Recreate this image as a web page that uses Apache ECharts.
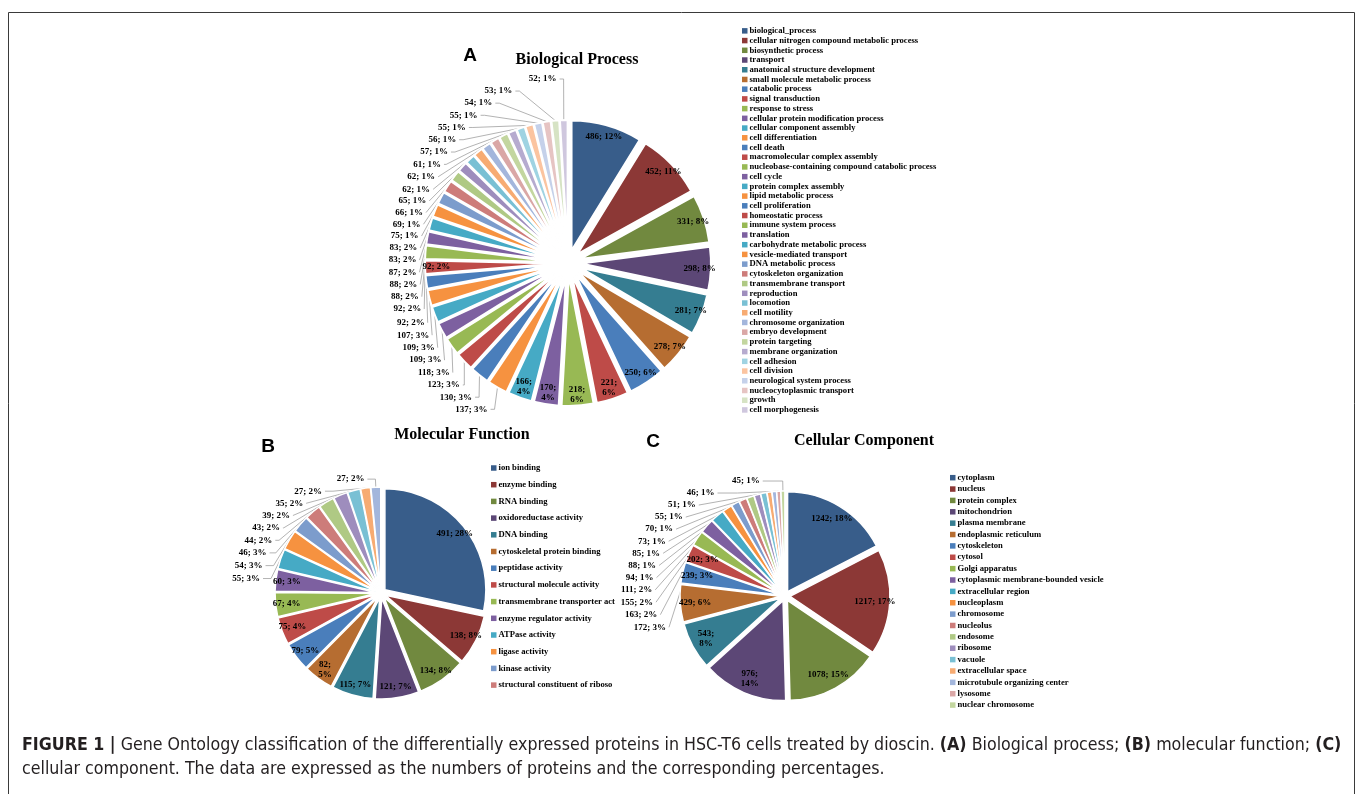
<!DOCTYPE html>
<html>
<head>
<meta charset="utf-8">
<script src="https://cdn.jsdelivr.net/npm/echarts@6.0.0/dist/echarts.min.js"></script>
<style>
  html, body { margin: 0; padding: 0; background: #fff; }
  #fig { width: 1357px; height: 794px; }
</style>
</head>
<body>
<div id="fig"></div>
<script>
// ---- Biological process (panel A) ----
const bpNames = [
  'biological_process', 'cellular nitrogen compound metabolic process', 'biosynthetic process',
  'transport', 'anatomical structure development', 'small molecule metabolic process',
  'catabolic process', 'signal transduction', 'response to stress',
  'cellular protein modification process', 'cellular component assembly', 'cell differentiation',
  'cell death', 'macromolecular complex assembly', 'nucleobase-containing compound catabolic process',
  'cell cycle', 'protein complex assembly', 'lipid metabolic process', 'cell proliferation',
  'homeostatic process', 'immune system process', 'translation', 'carbohydrate metabolic process',
  'vesicle-mediated transport', 'DNA metabolic process', 'cytoskeleton organization',
  'transmembrane transport', 'reproduction', 'locomotion', 'cell motility',
  'chromosome organization', 'embryo development', 'protein targeting', 'membrane organization',
  'cell adhesion', 'cell division', 'neurological system process', 'nucleocytoplasmic transport',
  'growth', 'cell morphogenesis'
];
const bpCounts = [486, 452, 331, 298, 281, 278, 250, 221, 218, 170, 166, 137, 130, 123, 118, 109, 109, 107,
  92, 92, 92, 88, 88, 87, 83, 83, 75, 69, 66, 65, 62, 62, 61, 57, 56, 55, 55, 54, 53, 52];
const bpPct = [12, 11, 8, 8, 7, 7, 6, 6, 6, 4, 4, 3, 3, 3, 3, 3, 3, 3,
  2, 2, 2, 2, 2, 2, 2, 2, 1, 1, 1, 1, 1, 1, 1, 1, 1, 1, 1, 1, 1, 1];

// ---- Molecular function (panel B) ----
const mfNames = [
  'ion binding', 'enzyme binding', 'RNA binding', 'oxidoreductase activity', 'DNA binding',
  'cytoskeletal protein binding', 'peptidase activity', 'structural molecule activity',
  'transmembrane transporter activity', 'enzyme regulator activity', 'ATPase activity',
  'ligase activity', 'kinase activity', 'structural constituent of ribosome',
  'molecular function 15', 'molecular function 16', 'molecular function 17',
  'molecular function 18', 'molecular function 19'
];
const mfCounts = [491, 138, 134, 121, 115, 82, 79, 75, 67, 60, 55, 54, 46, 44, 43, 39, 35, 27, 27];
const mfPct = [28, 8, 8, 7, 7, 5, 5, 4, 4, 3, 3, 3, 3, 2, 2, 2, 2, 2, 2];
const mfLegendCount = 14;

// ---- Cellular component (panel C) ----
const ccNames = [
  'cytoplasm', 'nucleus', 'protein complex', 'mitochondrion', 'plasma membrane',
  'endoplasmic reticulum', 'cytoskeleton', 'cytosol', 'Golgi apparatus',
  'cytoplasmic membrane-bounded vesicle', 'extracellular region', 'nucleoplasm', 'chromosome',
  'nucleolus', 'endosome', 'ribosome', 'vacuole', 'extracellular space',
  'microtubule organizing center', 'lysosome', 'nuclear chromosome'
];
const ccCounts = [1242, 1217, 1078, 976, 543, 429, 239, 202, 172, 163, 155, 111, 94, 88, 85, 73, 70, 55, 51, 46, 45];
const ccPct = [18, 17, 15, 14, 8, 6, 3, 3, 3, 2, 2, 2, 1, 1, 1, 1, 1, 1, 1, 1, 1];

// Office-style slice colours, cycling through shade groups
const dark    = ['#385D8A', '#8C3836', '#71893F', '#5C4776', '#357D91', '#B66D31'];
const normal  = ['#4A7EBB', '#BE4B48', '#98B954', '#7D60A0', '#46AAC5', '#F69240'];
const light   = ['#7C9CCC', '#CD7C7A', '#AFC984', '#9E8DBD', '#79C0D4', '#F7AB72'];
const lighter = ['#A3B6DC', '#DAA7A6', '#C3D69F', '#B6ABCF', '#9FD3E2', '#FBC4A0'];
const palest  = ['#C5D1EA', '#E6C4C3', '#D6E3C4', '#CFC7DE', '#C7E5EE', '#FCDAC4'];
const paletteA = [...dark, ...normal, ...normal, ...normal, ...light, ...lighter, ...palest];
const paletteBC = [...dark, ...normal, ...light, ...lighter];

// slices whose labels sit inside the wedge; some of those wrap onto two lines
const insideA = new Set([0, 1, 2, 3, 4, 5, 6, 7, 8, 9, 10, 19]);
const wrapA = new Set([7, 8, 9, 10]);
const insideB = new Set([0, 1, 2, 3, 4, 5, 6, 7, 8, 9]);
const wrapB = new Set([5]);
const insideC = new Set([0, 1, 2, 3, 4, 5, 6, 7]);
const wrapC = new Set([3, 4]);

const serif = "'Liberation Serif', 'Times New Roman', serif";
const labelFont = { fontFamily: serif, fontWeight: 'bold', fontSize: 9, color: '#000' };

function labelText(counts, pct, wrap) {
  return function (p) {
    const i = p.dataIndex;
    return counts[i] + ';' + (wrap.has(i) ? '\n' : ' ') + pct[i] + '%';
  };
}

// one pie = wedge series (outside labels) + transparent ring carrying the inside labels.
// box bounds the area the outside labels may be spread over; center is relative to it.
function buildPie(cfg) {
  const box = { left: 0, width: 1357, top: cfg.boxTop, height: cfg.boxHeight };
  const center = [cfg.cx, cfg.cy - cfg.boxTop];
  const wedges = Object.assign({
    type: 'pie', center: center, radius: [0, cfg.r],
    startAngle: 90, clockwise: true,
    selectedMode: 'multiple', selectedOffset: cfg.offset,
    avoidLabelOverlap: true, animation: false,
    emphasis: { disabled: true },
    itemStyle: { borderColor: '#fff', borderWidth: cfg.border },
    select: { itemStyle: { borderColor: '#fff', borderWidth: cfg.border } },
    label: Object.assign({ position: 'outside', formatter: labelText(cfg.counts, cfg.pct, cfg.wrap),
      lineHeight: 10, distanceToLabelLine: 3 }, labelFont),
    labelLine: { length: cfg.len1, length2: cfg.len2, smooth: false, lineStyle: { color: '#a0a0a0', width: 0.8 } },
    data: cfg.names.map((n, i) => ({
      name: n, value: cfg.counts[i], selected: true,
      itemStyle: { color: cfg.palette[i] },
      label: { show: !cfg.inside.has(i) },
      labelLine: { show: !cfg.inside.has(i) }
    }))
  }, box);
  const ring = Object.assign({
    type: 'pie', center: center, radius: [cfg.r * cfg.inner, cfg.r],
    startAngle: 90, clockwise: true, silent: true,
    selectedMode: 'multiple', selectedOffset: cfg.offset,
    avoidLabelOverlap: false, animation: false, z: 3,
    emphasis: { disabled: true },
    itemStyle: { color: 'rgba(0,0,0,0)', borderWidth: 0 },
    select: { itemStyle: { color: 'rgba(0,0,0,0)', borderWidth: 0 } },
    label: Object.assign({ position: 'inside', formatter: labelText(cfg.counts, cfg.pct, cfg.wrap), lineHeight: 10 }, labelFont),
    labelLine: { show: false },
    data: cfg.names.map((n, i) => ({
      name: n, value: cfg.counts[i], selected: true,
      label: { show: cfg.inside.has(i) }
    }))
  }, box);
  return [wedges, ring];
}

const legendText = { fontFamily: serif, fontWeight: 'bold', fontSize: 8.6, color: '#000', padding: [0, 0, 0, -3] };
const legendBase = { orient: 'vertical', padding: 0, itemWidth: 5.5, itemHeight: 5.5, icon: 'rect',
  selectedMode: false, itemStyle: { borderWidth: 0 } };

const capFont = "'Liberation Sans Narrow', 'DejaVu Sans Condensed', 'Liberation Sans', sans-serif";

const chart = echarts.init(document.getElementById('fig'), null, { renderer: 'canvas' });
chart.setOption({
  backgroundColor: '#fff',
  animation: false,
  legend: [
    Object.assign({}, legendBase, {
      left: 742, top: 26, itemGap: 0, data: bpNames,
      textStyle: Object.assign({ lineHeight: 9.72 }, legendText)
    }),
    Object.assign({}, legendBase, {
      left: 491, top: 463, itemGap: 6.7, data: mfNames.slice(0, mfLegendCount),
      textStyle: Object.assign({ lineHeight: 10, width: 119, overflow: 'truncate', ellipsis: '' }, legendText)
    }),
    Object.assign({}, legendBase, {
      left: 950, top: 472, itemGap: 0, data: ccNames,
      textStyle: Object.assign({ lineHeight: 11.37 }, legendText)
    })
  ],
  series: [
    ...buildPie({ names: bpNames, counts: bpCounts, pct: bpPct, palette: paletteA,
      inside: insideA, wrap: wrapA, cx: 568, cy: 263, r: 130, offset: 13, border: 2,
      inner: 0.78, len1: 6, len2: 4, boxTop: 86, boxHeight: 318 }),
    ...buildPie({ names: mfNames, counts: mfCounts, pct: mfPct, palette: paletteBC,
      inside: insideB, wrap: wrapB, cx: 381, cy: 593, r: 101, offset: 5, border: 1.5,
      inner: 0.72, len1: 8, len2: 8, boxTop: 470, boxHeight: 235 }),
    ...buildPie({ names: ccNames, counts: ccCounts, pct: ccPct, palette: paletteBC,
      inside: insideC, wrap: wrapC, cx: 785, cy: 596, r: 100, offset: 5, border: 1.5,
      inner: 0.64, len1: 10, len2: 20, boxTop: 452, boxHeight: 250 })
  ],
  graphic: [
    { type: 'rect', silent: true, shape: { x: 8.5, y: 12.5, width: 1346, height: 800 },
      style: { fill: 'none', stroke: '#3a3a3a', lineWidth: 1 } },
    { type: 'text', x: 470, y: 56, style: { text: 'A', align: 'center', verticalAlign: 'middle',
      fontFamily: "'Liberation Sans', Arial, sans-serif", fontWeight: 'bold', fontSize: 19, fill: '#000' } },
    { type: 'text', x: 577, y: 60, style: { text: 'Biological Process', align: 'center', verticalAlign: 'middle',
      fontFamily: serif, fontWeight: 'bold', fontSize: 16, fill: '#000' } },
    { type: 'text', x: 268, y: 447, style: { text: 'B', align: 'center', verticalAlign: 'middle',
      fontFamily: "'Liberation Sans', Arial, sans-serif", fontWeight: 'bold', fontSize: 19, fill: '#000' } },
    { type: 'text', x: 462, y: 435, style: { text: 'Molecular Function', align: 'center', verticalAlign: 'middle',
      fontFamily: serif, fontWeight: 'bold', fontSize: 16, fill: '#000' } },
    { type: 'text', x: 653, y: 442, style: { text: 'C', align: 'center', verticalAlign: 'middle',
      fontFamily: "'Liberation Sans', Arial, sans-serif", fontWeight: 'bold', fontSize: 19, fill: '#000' } },
    { type: 'text', x: 864, y: 441, style: { text: 'Cellular Component', align: 'center', verticalAlign: 'middle',
      fontFamily: serif, fontWeight: 'bold', fontSize: 16, fill: '#000' } },
    { type: 'text', x: 22, y: 745, style: {
      text: '{b|FIGURE 1 |} Gene Ontology classification of the differentially expressed proteins in HSC-T6 cells treated by dioscin. {b|(A)} Biological process; {b|(B)} molecular function; {b|(C)}',
      verticalAlign: 'middle', fill: '#231f20', fontFamily: capFont, fontSize: 17.65,
      rich: { b: { fontWeight: 'bold', fontSize: 17.65, fill: '#231f20', fontFamily: capFont } } } },
    { type: 'text', x: 22, y: 769, style: {
      text: 'cellular component. The data are expressed as the numbers of proteins and the corresponding percentages.',
      verticalAlign: 'middle', fill: '#231f20', fontFamily: capFont, fontSize: 17.65 } }
  ]
});
</script>
</body>
</html>
